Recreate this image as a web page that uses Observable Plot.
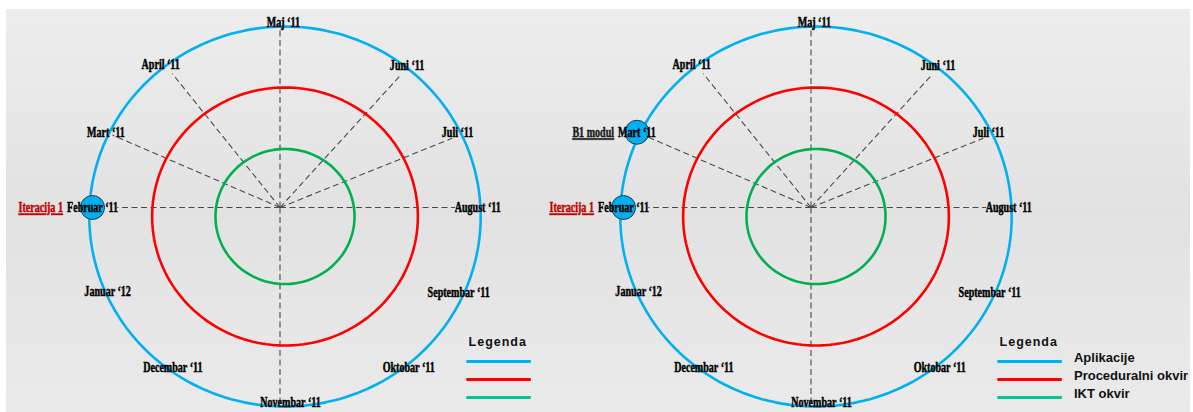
<!DOCTYPE html>
<html>
<head>
<meta charset="utf-8">
<script src="https://cdn.jsdelivr.net/npm/d3@7"></script>
<script src="https://cdn.jsdelivr.net/npm/@observablehq/plot@0.6"></script>
<style>
  html, body { margin: 0; padding: 0; background: #ffffff; }
  #wrap { position: relative; width: 1193px; height: 412px; overflow: hidden; }
  #bg { position: absolute; left: 6px; top: 9px; width: 1184px; height: 403px;
        background: linear-gradient(to bottom, #ededed 0%, #e2e2e2 50%, #eaeaea 100%); }
  #chart { position: absolute; left: 0; top: 0; }
</style>
</head>
<body>
<div id="wrap"><div id="bg"></div><div id="chart"></div></div>
<script>
// ---------------- data ----------------
const panels = ["Prikaz 1", "Prikaz 2"];

const months = ["Februar ‘11", "Mart ‘11", "April ‘11", "Maj ‘11", "Juni ‘11", "Juli ‘11",
                "August ‘11", "Septembar ‘11", "Oktobar ‘11", "Novembar ‘11", "Decembar ‘11", "Januar ‘12"];
const monthAngle  = [180, 156, 129, 89, 49, 23.5, 0, -26, -52, -87, -123, -153.5];
const labelRadius = [182, 185, 184, 185, 188, 188, 192, 193, 203, 195, 191, 187];
const spokeAngle  = [180, 156, 128, 90, 48.5, 22.5, 0, null, null, -90, null, null];
const spokeLength = [158, 178, 170, 180, 176, 181, 170, null, null, 196, null, null];

const rings       = ["Aplikacije", "Proceduralni okvir", "IKT okvir"];
const ringRadius  = [190, 129, 67.5];

const milestoneName  = ["Iteracija 1", "Iteracija 1", "B1 modul"];
const milestoneMonth = ["Februar ‘11", "Februar ‘11", "Mart ‘11"];
const milestonePanel = ["Prikaz 1", "Prikaz 2", "Prikaz 2"];

const legendTitle = "Legenda";
const legendLabelPanel = "Prikaz 2";

// ---------------- layout helpers ----------------
const W = 1193, H = 412;
const xStretch = 1.03;                 // horizontal px per unit
const halfSpan = 265.5 / xStretch;
const ringCenter = [5 / xStretch, -9];
const rad = Math.PI / 180;
const cx = (a, r) => r * Math.cos(a * rad);
const cy = (a, r) => r * Math.sin(a * rad);

const labelSize = 15;
const labelFont = `bold ${labelSize}px 'Liberation Serif'`;
const ctx = document.createElement("canvas").getContext("2d");
const measure = (s, font) => { ctx.font = font; return ctx.measureText(s).width; };
const squeeze = 60.7 / measure("Novembar ‘11", labelFont);

const monthRows = months.map((m, i) => ({month: m, angle: monthAngle[i], r: labelRadius[i],
                                         sa: spokeAngle[i], spoke: spokeLength[i]}));
const monthBy = new Map(monthRows.map(d => [d.month, d]));
const spokeRows = monthRows.filter(d => d.spoke != null);

const ringRows = rings.flatMap((ring, i) =>
  d3.range(0, 361, 2).map(a => ({ring, a, r: ringRadius[i]})));

const milestoneRows = milestoneName.map((name, i) => {
  const m = monthBy.get(milestoneMonth[i]);
  const halfW = measure(m.month, labelFont) * squeeze / 2;
  return {name, panel: milestonePanel[i], m, shift: (halfW + 4) / xStretch};
});

const legendRows = rings.map((ring, i) => ({ring, i, panel: legendLabelPanel}));
const legendY = i => -153.9 - 18.1 * i;

const colorRange = ["#00b0f0", "#ff0000", "#00b050"];
const legendColors = ["#00b0f0", "#ff0000", "#00c896"];

const labelStyle = {fontFamily: "Liberation Serif", fontWeight: "bold", fontSize: labelSize,
                    strokeWidth: 0.5, lineAnchor: "middle"};

const chart = Plot.plot({
  width: W, height: H,
  marginLeft: 14, marginRight: 117, marginTop: 0, marginBottom: 0,
  style: {background: "transparent", overflow: "visible"},
  fx: {domain: panels, padding: 0, axis: null},
  x: {domain: [-halfSpan, halfSpan], axis: null},
  y: {domain: [-205, 207], axis: null},
  color: {domain: rings, range: colorRange},
  marks: [
    Plot.link(spokeRows, {
      x1: 0, y1: 0,
      x2: d => cx(d.sa, d.spoke), y2: d => cy(d.sa, d.spoke),
      stroke: "#4a4a4a", strokeWidth: 1.1, strokeDasharray: "6,3.5"
    }),
    Plot.line(ringRows, {
      x: d => ringCenter[0] + cx(d.a, d.r),
      y: d => ringCenter[1] + cy(d.a, d.r),
      z: "ring", stroke: "ring", strokeWidth: 2.6
    }),
    Plot.dot(milestoneRows, {
      fx: "panel",
      x: d => cx(d.m.angle, d.m.r), y: d => cy(d.m.angle, d.m.r),
      r: 12, fill: "#00b0f0", stroke: "#1c2a38", strokeWidth: 0.9
    }),
    Plot.text(monthRows, {
      ...labelStyle,
      x: d => cx(d.angle, d.r), y: d => cy(d.angle, d.r), text: "month",
      fill: "#000", stroke: "#000", textAnchor: "middle"
    }),
    Plot.text(milestoneRows.filter(d => d.name === "Iteracija 1"), {
      ...labelStyle,
      fx: "panel",
      x: d => cx(d.m.angle, d.m.r) - d.shift, y: d => cy(d.m.angle, d.m.r), text: "name",
      fill: "#c00000", stroke: "#c00000", textAnchor: "end"
    }),
    Plot.text(milestoneRows.filter(d => d.name !== "Iteracija 1"), {
      ...labelStyle,
      fx: "panel",
      x: d => cx(d.m.angle, d.m.r) - d.shift, y: d => cy(d.m.angle, d.m.r), text: "name",
      fill: "#1a1a1a", stroke: "#1a1a1a", textAnchor: "end"
    }),
    Plot.text([legendTitle], {
      x: 211.4, y: -134.9, text: d => d,
      fontFamily: "Liberation Sans", fontWeight: "bold", fontSize: 12.5,
      fill: "#111", textAnchor: "middle", lineAnchor: "middle"
    }),
    Plot.link(legendRows, {
      x1: 180.9, x2: 243.5, y1: d => legendY(d.i), y2: d => legendY(d.i),
      stroke: d => legendColors[d.i], strokeWidth: 3
    }),
    Plot.text(legendRows, {
      fx: "panel",
      x: 255.3, y: d => legendY(d.i) + 3.5, text: "ring",
      fontFamily: "Liberation Sans", fontWeight: "bold", fontSize: 13,
      fill: "#111", textAnchor: "start", lineAnchor: "middle"
    })
  ]
});

document.getElementById("chart").appendChild(chart);

// condense the month / milestone labels horizontally, underline milestones
const monthSet = new Set(months), milestoneSet = new Set(milestoneName);
chart.querySelectorAll("text").forEach(t => {
  const s = t.textContent;
  if (monthSet.has(s) || milestoneSet.has(s)) {
    const tr = t.getAttribute("transform") || "";
    const xa = t.getAttribute("x");
    if (xa != null && isFinite(+xa)) t.setAttribute("x", +xa / squeeze);
    t.setAttribute("transform", `${tr} scale(${squeeze},1)`);
  }
  if (milestoneSet.has(s)) t.style.textDecoration = "underline";
  if (s === legendTitle) t.style.letterSpacing = "1px";
});
</script>
</body>
</html>
